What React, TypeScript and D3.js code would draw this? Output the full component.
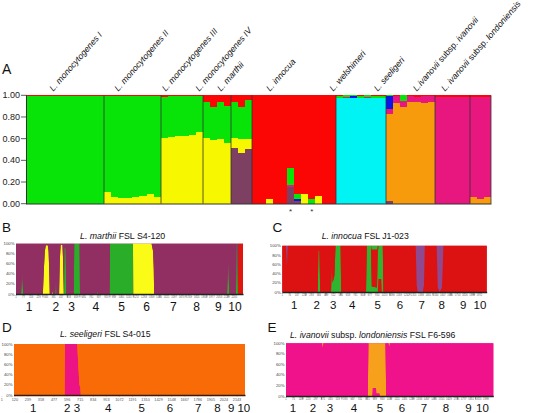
import React from 'react';
import * as d3 from 'd3';

const FONT = "'Liberation Sans', Arial, Helvetica, sans-serif";

// ---------------- Panel A data ----------------
// cluster order (bottom -> top of each bar)
const clusterKeys = ['maroon', 'orange', 'yellow', 'cyan', 'magenta', 'blue', 'green', 'red'];
// rows: [maroon, orange, yellow, cyan, magenta, blue, green, red]
const monoI = [
  [0, 0, 0, 0, 0, 0, 0.992, 0.008], [0, 0, 0, 0, 0, 0, 0.992, 0.008], [0, 0, 0, 0, 0, 0, 0.992, 0.008],
  [0, 0, 0, 0, 0, 0, 0.992, 0.008], [0, 0, 0, 0, 0, 0, 0.992, 0.008], [0, 0, 0, 0, 0, 0, 0.992, 0.008],
  [0, 0, 0, 0, 0, 0, 0.992, 0.008], [0, 0, 0, 0, 0, 0, 0.992, 0.008], [0, 0, 0, 0, 0, 0, 0.992, 0.008],
  [0, 0, 0, 0, 0, 0, 0.992, 0.008], [0, 0, 0, 0, 0, 0, 0.992, 0.008],
];
const monoII = [
  [0, 0, 0.105, 0, 0, 0, 0.887, 0.008], [0, 0, 0.062, 0, 0, 0, 0.93, 0.008], [0, 0, 0.057, 0, 0, 0, 0.935, 0.008],
  [0, 0, 0.057, 0, 0, 0, 0.935, 0.008], [0, 0, 0.062, 0, 0, 0, 0.93, 0.008], [0, 0, 0.071, 0, 0, 0, 0.921, 0.008],
  [0, 0, 0.093, 0, 0, 0, 0.899, 0.008], [0, 0, 0.06, 0, 0, 0, 0.932, 0.008],
];
const monoIII = [
  [0, 0, 0.61, 0, 0, 0, 0.375, 0.015], [0, 0, 0.615, 0, 0, 0, 0.38, 0.005], [0, 0, 0.62, 0, 0, 0, 0.375, 0.005],
  [0, 0, 0.625, 0, 0, 0, 0.37, 0.005], [0, 0, 0.63, 0, 0, 0, 0.365, 0.005], [0, 0, 0.665, 0, 0, 0, 0.33, 0.005],
];
const monoIV = [
  [0, 0, 0.605, 0, 0, 0, 0.335, 0.06], [0, 0, 0.585, 0, 0, 0, 0.305, 0.11],
  [0, 0, 0.595, 0, 0, 0, 0.345, 0.06], [0, 0, 0.56, 0, 0, 0, 0.345, 0.095],
];
const marthii = [
  [0.51, 0, 0.1, 0, 0, 0, 0.33, 0.06], [0.47, 0, 0.13, 0, 0, 0, 0.29, 0.11], [0.505, 0, 0.09, 0, 0, 0, 0.36, 0.045],
];
const innocua = [
  [0, 0, 0, 0, 0, 0, 0, 1], [0, 0, 0, 0, 0, 0, 0, 1], [0, 0, 0.043, 0, 0, 0, 0, 0.957],
  [0, 0, 0, 0, 0, 0, 0, 1], [0, 0, 0, 0, 0, 0, 0, 1], [0.157, 0, 0, 0, 0.013, 0, 0.155, 0.675],
  [0.028, 0, 0, 0, 0, 0.017, 0.04, 0.915], [0, 0, 0.087, 0, 0, 0, 0, 0.913], [0, 0, 0, 0, 0, 0, 0.04, 0.96],
  [0, 0, 0.07, 0, 0, 0, 0, 0.93], [0, 0, 0, 0, 0, 0, 0, 1], [0, 0, 0, 0, 0, 0, 0, 1],
];
const welshimeri = [
  [0, 0, 0, 0.978, 0, 0, 0.012, 0.01], [0, 0, 0, 0.978, 0.01, 0, 0.012, 0], [0, 0, 0, 0.978, 0, 0.012, 0.01, 0],
  [0, 0, 0, 0.978, 0, 0, 0.015, 0.007], [0, 0, 0, 0.978, 0.007, 0, 0.015, 0], [0, 0, 0, 0.978, 0, 0, 0.012, 0.01],
  [0, 0, 0, 0.978, 0, 0, 0.015, 0.007],
];
const seeligeri = [
  [0.025, 0.8, 0, 0, 0.05, 0.115, 0.01, 0], [0, 0.925, 0, 0, 0.065, 0, 0, 0.01], [0, 0.895, 0, 0, 0.055, 0, 0.05, 0],
  [0, 0.935, 0, 0, 0.055, 0, 0, 0.01], [0, 0.94, 0, 0, 0.045, 0, 0, 0.015], [0, 0.93, 0, 0, 0.065, 0, 0, 0.005],
  [0, 0.935, 0, 0, 0.055, 0, 0, 0.01],
];
const ivanovii = [
  [0, 0, 0, 0, 0.985, 0, 0, 0.015], [0, 0, 0, 0, 0.985, 0, 0, 0.015], [0, 0, 0, 0, 0.985, 0, 0, 0.015],
  [0, 0, 0, 0, 0.985, 0, 0, 0.015], [0, 0, 0, 0, 0.985, 0, 0, 0.015],
];
const londoniensis = [
  [0, 0.06, 0, 0, 0.928, 0, 0, 0.012], [0, 0.045, 0, 0, 0.943, 0, 0, 0.012], [0, 0.06, 0, 0, 0.928, 0, 0, 0.012],
];
const groupsA = [monoI, monoII, monoIII, monoIV, marthii, innocua, welshimeri, seeligeri, ivanovii, londoniensis];
const groupLabels: [string, boolean][][] = [
  [['L. monocytogenes I', true]],
  [['L. monocytogenes II', true]],
  [['L. monocytogenes III', true]],
  [['L. monocytogenes IV', true]],
  [['L. marthii', true]],
  [['L. innocua', true]],
  [['L. welshimeri', true]],
  [['L. seeligeri', true]],
  [['L.ivanovii', true], [' subsp. ', false], ['ivanovii', true]],
  [['L. ivanovii', true], [' subsp. ', false], ['londoniensis', true]],
];
const starredInnocua = [5, 8];
const yTicksA = [0, 0.2, 0.4, 0.6, 0.8, 1.0];

// ---------------- Panels B-E data (genome position, proportion) ----------------
type Prof = [number, number][];
const bGreen: Prof = [[1, 0], [52, 0], [63, 0.4], [74, 0], [397, 0], [404, 0.25], [411, 0], [486, 0], [490, 0.93], [502, 0.9], [510, 0],
  [584, 0], [589, 1], [643, 1], [647, 0], [819, 0], [825, 0.05], [831, 0], [946, 0], [950, 1], [1182, 1], [1186, 0],
  [2132, 0], [2144, 0.66], [2154, 0], [2222, 0], [2228, 1], [2236, 1], [2242, 0]];
const bYellow: Prof = [[272, 0], [284, 0.55], [292, 0.85], [302, 0.97], [322, 0.97], [330, 0.85], [336, 0.5], [342, 0],
  [366, 0], [371, 0.06], [376, 0], [436, 0], [444, 0.7], [452, 0.98], [470, 0.98], [476, 0.7], [484, 0],
  [1182, 0], [1186, 1], [1370, 1], [1385, 0.85], [1392, 0.5], [1396, 0]];
const bRed: Prof = [[2240, 0], [2246, 1], [2293, 1]];
const bTicks = [1, 77, 153, 229, 305, 381, 457, 533, 609, 685, 761, 837, 913, 989, 1065, 1141, 1217, 1293, 1369, 1445,
  1521, 1597, 1673, 1749, 1825, 1901, 1977, 2053, 2129, 2205];
const bCenters = [134, 404, 563, 808, 1068, 1320, 1589, 1825, 2043, 2212];
const bSeparators = [273, 520, 646, 949, 1185, 1454, 1717, 1929, 2141];

const cRedLow: Prof = [[956, 0], [962, 0.28], [990, 0.28], [996, 0]];
const cGreenA: Prof = [[1, 0], [355, 0], [362, 0.9], [372, 0.9], [380, 0], [488, 0], [496, 0.55], [504, 0.2], [522, 0.35], [533, 1],
  [584, 1], [590, 0], [838, 0], [846, 1], [888, 1], [896, 0.12], [948, 0.1], [956, 1], [960, 0.72], [990, 0.72],
  [996, 1], [1006, 1], [1012, 0]];
const cRedMid: Prof = [[888, 0], [896, 0.8], [948, 0.82], [956, 0]];
const cGreenB: Prof = [[888, 0], [896, 0.08], [948, 0.08], [956, 0]];
const cPurple: Prof = [[38, 0], [47, 0.45], [56, 0], [1335, 0], [1345, 0.85], [1355, 1], [1405, 1], [1418, 0.85], [1426, 0],
  [1545, 0], [1556, 0.9], [1575, 1], [1598, 0.9], [1612, 0]];
const cTicks = [1, 74, 147, 220, 293, 366, 439, 512, 585, 658, 731, 804, 877, 950, 1023, 1096, 1169, 1242, 1315, 1388,
  1461, 1534, 1607, 1680, 1753, 1826, 1899, 1972];
const cCenters = [120, 344, 510, 700, 954, 1177, 1394, 1594, 1810, 1977];
const cSeparators = [237, 437, 587, 827, 1077, 1277, 1507, 1687, 1917];

const dMagenta: Prof = [[1, 0], [497, 0], [500, 1], [620, 1], [628, 0.7], [636, 0.4], [642, 0.2], [650, 0.15], [655, 0]];
const dTicks = [1, 120, 239, 358, 477, 596, 715, 834, 953, 1072, 1191, 1310, 1429, 1548, 1667, 1786, 1905, 2024, 2143];
const dCenters = [189, 522, 618, 924, 1251, 1529, 1806, 1993, 2130, 2252];

const eMagLow: Prof = [[862, 0], [868, 0.15], [900, 0.15], [905, 0.05], [935, 0.05], [941, 0]];
const eOrange: Prof = [[818, 0], [825, 1], [862, 1], [868, 0.85], [900, 0.85], [905, 0.95], [935, 0.95], [941, 1], [995, 1], [1003, 0]];
const eOrangeTop: Prof = [[360, 0], [367, 0.08], [374, 0], [1026, 0], [1033, 0.06], [1040, 0]];
const eTicks = [1, 75, 149, 223, 297, 371, 445, 519, 593, 667, 741, 815, 889, 963, 1037, 1111, 1185, 1259, 1333, 1407,
  1481, 1555, 1629, 1703, 1777, 1851, 1925, 1999];
const eCenters = [70, 270, 440, 680, 940, 1160, 1380, 1600, 1825, 1965];
const eSeparators = [170, 355, 560, 810, 1050, 1270, 1490, 1715, 1895];

const regionNames = ['1', '2', '3', '4', '5', '6', '7', '8', '9', '10'];
const yTicksPct = [0, 0.2, 0.4, 0.6, 0.8, 1.0];

// ---------------- styles ----------------
const colorsA: Record<string, string> = {
  maroon: '#7d4062', orange: '#f79a0c', yellow: '#f7f700', cyan: '#00f4f4',
  magenta: '#e8177f', blue: '#0b16e4', green: '#08e408', red: '#fb0505',
};
const B_MAROON = '#922f62', B_GREEN = '#2aae2a', B_YELLOW = '#fbfb18', B_RED = '#e0160e';
const C_RED = '#dc1212', C_GREEN = '#2fb52f', C_PURPLE = '#8f4a8f';
const D_ORANGE = '#f96b06', D_MAGENTA = '#ec1384';
const E_MAGENTA = '#ef128a', E_ORANGE = '#f6a01c';

type Layer = { color: string; prof: Prof | null };
type PanelCfg = {
  left: number; right: number; top: number; bottom: number; domain: [number, number];
  layers: Layer[]; ticks: number[]; tickPoint?: [number, number]; tickFont: number; tickY: number;
  separators: number[]; centers: number[]; digitY: number; digitSize: number;
  title: [string, boolean][]; titleX: number; titleY: number; titleSize: number;
  letter: string; letterX: number; letterY: number; axisColor: string;
};

function interp(p: Prof, x: number) {
  if (x <= p[0][0]) return p[0][1];
  for (let i = 1; i < p.length; i++) {
    if (x <= p[i][0]) {
      const [x0, y0] = p[i - 1];
      const [x1, y1] = p[i];
      return x1 === x0 ? y1 : y0 + ((y1 - y0) * (x - x0)) / (x1 - x0);
    }
  }
  return p[p.length - 1][1];
}

function StructurePanel({ p }: { p: PanelCfg }) {
  const x = d3.scaleLinear().domain(p.domain).range([p.left, p.right]);
  const y = d3.scaleLinear().domain([0, 1]).range([p.bottom, p.top]);
  const xs = Array.from(new Set([p.domain[0], p.domain[1], ...p.layers.flatMap(l => (l.prof ? l.prof.map(d => d[0]) : []))]))
    .filter(v => v >= p.domain[0] && v <= p.domain[1]).sort((a, b) => a - b);
  const keys = p.layers.map((_, i) => 'k' + i);
  const rows = xs.map(pos => {
    const r: any = { pos };
    let sum = 0;
    let restIdx = -1;
    p.layers.forEach((l, i) => {
      if (l.prof) { const v = Math.max(0, interp(l.prof, pos)); r['k' + i] = v; sum += v; } else restIdx = i;
    });
    if (sum > 1) p.layers.forEach((l, i) => { if (l.prof) r['k' + i] /= sum; });
    if (restIdx >= 0) r['k' + restIdx] = Math.max(0, 1 - Math.min(sum, 1));
    return r;
  });
  const series = d3.stack<any>().keys(keys)(rows);
  const area = d3.area<any>().x(d => x(d.data.pos)).y0(d => y(d[0])).y1(d => y(d[1]));
  const restLayer = p.layers.find(l => !l.prof);
  const pointScale = p.tickPoint ? d3.scalePoint<number>().domain(p.ticks).range(p.tickPoint) : null;
  const tickX = (v: number) => (pointScale ? (pointScale(v) as number) : x(v));
  return (
    <g>
      <text x={p.letterX} y={p.letterY} fontSize={13.5} fontFamily={FONT} fill="#111">{p.letter}</text>
      <text x={p.titleX} y={p.titleY} fontSize={p.titleSize} fontFamily={FONT} fill="#111">
        {p.title.map(([t, it], i) => <tspan key={i} fontStyle={it ? 'italic' : 'normal'}>{t}</tspan>)}
      </text>
      <rect x={p.left} y={p.top} width={p.right - p.left} height={p.bottom - p.top} fill={restLayer ? restLayer.color : '#fff'} />
      {series.map((s, i) => (
        <path key={i} d={area(s) || ''} fill={p.layers[i].color} />
      ))}
      {yTicksPct.map(v => (
        <text key={v} x={p.left - 1.5} y={y(v)} dy="0.35em" fontSize={4.3} textAnchor="end" fontFamily={FONT} fill="#444">
          {`${Math.round(v * 100)}%`}
        </text>
      ))}
      <line x1={p.left} x2={p.right + 0.5} y1={p.bottom + 0.5} y2={p.bottom + 0.5} stroke={p.axisColor} strokeWidth={1.3} />
      {p.ticks.map((v, i) => (
        <g key={i}>
          <line x1={tickX(v)} x2={tickX(v)} y1={p.bottom + 1} y2={p.bottom + 2} stroke="#777" strokeWidth={0.3} />
          <text x={tickX(v)} y={p.tickY} fontSize={p.tickFont} textAnchor="middle" fontFamily={FONT} fill="#555">{v}</text>
        </g>
      ))}
      {p.separators.map((v, i) => (
        <line key={i} x1={x(v)} x2={x(v)} y1={p.bottom + 0.5} y2={p.bottom + 3.5} stroke="#333" strokeWidth={0.5} />
      ))}
      {p.centers.map((v, i) => (
        <text key={i} x={x(v)} y={p.digitY} fontSize={p.digitSize} textAnchor="middle" fontFamily={FONT} fill="#111">
          {regionNames[i]}
        </text>
      ))}
    </g>
  );
}

const panelB: PanelCfg = {
  left: 16, right: 243, top: 243.7, bottom: 294, domain: [1, 2293],
  layers: [{ color: B_GREEN, prof: bGreen }, { color: B_YELLOW, prof: bYellow }, { color: B_RED, prof: bRed }, { color: B_MAROON, prof: null }],
  ticks: bTicks, tickFont: 2.6, tickY: 298.2, separators: bSeparators, centers: bCenters, digitY: 310.7, digitSize: 12,
  title: [['L. marthii', true], [' FSL S4-120', false]], titleX: 80, titleY: 239.3, titleSize: 8.8,
  letter: 'B', letterX: 2, letterY: 232, axisColor: '#222',
};
const panelC: PanelCfg = {
  left: 282.3, right: 486.7, top: 245.8, bottom: 292, domain: [1, 2045],
  layers: [{ color: C_RED, prof: cRedLow }, { color: C_GREEN, prof: cGreenA }, { color: C_RED, prof: cRedMid },
    { color: C_GREEN, prof: cGreenB }, { color: C_RED, prof: null }, { color: C_PURPLE, prof: cPurple }],
  ticks: cTicks, tickFont: 2.6, tickY: 296.2, separators: cSeparators, centers: cCenters, digitY: 309, digitSize: 11.5,
  title: [['L. innocua', true], [' FSL J1-023', false]], titleX: 321.7, titleY: 239.3, titleSize: 8.7,
  letter: 'C', letterX: 272.5, letterY: 232, axisColor: '#222',
};
const panelD: PanelCfg = {
  left: 14, right: 245, top: 344, bottom: 395, domain: [1, 2264],
  layers: [{ color: D_MAGENTA, prof: dMagenta }, { color: D_ORANGE, prof: null }],
  ticks: dTicks, tickPoint: [1.8, 237], tickFont: 3.8, tickY: 401, separators: [], centers: dCenters, digitY: 411.5, digitSize: 11.5,
  title: [['L. seeligeri', true], [' FSL S4-015', false]], titleX: 60, titleY: 337.3, titleSize: 8.7,
  letter: 'D', letterX: 2, letterY: 332, axisColor: '#3a1a0a',
};
const panelE: PanelCfg = {
  left: 286, right: 493.3, top: 343.3, bottom: 396, domain: [1, 2073],
  layers: [{ color: E_MAGENTA, prof: eMagLow }, { color: E_ORANGE, prof: eOrange }, { color: E_MAGENTA, prof: null }, { color: E_ORANGE, prof: eOrangeTop }],
  ticks: eTicks, tickFont: 2.6, tickY: 400, separators: eSeparators, centers: eCenters, digitY: 411.5, digitSize: 11.5,
  title: [['L. ivanovii', true], [' subsp. ', false], ['londoniensis', true], [' FSL F6-596', false]], titleX: 290, titleY: 338.3, titleSize: 8.7,
  letter: 'E', letterX: 267.5, letterY: 332, axisColor: '#222',
};

// label anchors (layout) for panel A headers
const labelAnchorX = [53.3, 118.3, 165.7, 199.3, 221, 270, 333.3, 377.7, 416.7, 445];

export default function App() {
  const isolates = groupsA.flat();
  const groupStart: number[] = [];
  let acc = 0;
  groupsA.forEach(g => { groupStart.push(acc); acc += g.length; });
  const xA = d3.scaleBand<number>().domain(d3.range(isolates.length)).range([27, 491]).padding(0);
  const yA = d3.scaleLinear().domain([0, 1]).range([203.7, 95.3]);
  const rows = isolates.map(r => {
    const s = d3.sum(r);
    const o: any = {};
    clusterKeys.forEach((k, i) => { o[k] = r[i] / s; });
    return o;
  });
  const series = d3.stack<any>().keys(clusterKeys)(rows);
  const bw = xA.bandwidth();
  const innocuaStart = groupStart[5];
  const bx0 = (i: number) => Math.round(xA(i) as number);
  const bx1 = (i: number) => Math.round((xA(i) as number) + bw);

  return (
    <svg width={560} height={413} style={{ position: 'absolute', left: 0, top: 0, display: 'block', background: '#fff' }}
      fontFamily={FONT}>
      {/* Panel A */}
      <text x={2} y={74} fontSize={14} fill="#111">A</text>
      {groupLabels.map((parts, i) => (
        <text key={i} transform={`translate(${labelAnchorX[i]},91.7) rotate(-49)`} fontSize={8.6} fill="#111">
          {parts.map(([t, it], j) => <tspan key={j} fontStyle={it ? 'italic' : 'normal'}>{t}</tspan>)}
        </text>
      ))}
      <g shapeRendering="crispEdges">
        {series.map(s => (
          <g key={s.key} fill={colorsA[s.key]}>
            {s.map((d, i) => (d[1] - d[0] > 0 ? (
              <rect key={i} x={bx0(i)} y={yA(d[1])} width={bx1(i) - bx0(i)} height={yA(d[0]) - yA(d[1])} />
            ) : null))}
          </g>
        ))}
      </g>
      {groupStart.slice(1).concat([isolates.length]).map((gs, i) => {
        const xx = gs === isolates.length ? 491 : bx0(gs);
        return <line key={i} x1={xx} x2={xx} y1={95.3} y2={203.7} stroke="#333" strokeWidth={0.8} />;
      })}
      <line x1={26.5} x2={26.5} y1={95} y2={204} stroke="#333" strokeWidth={1} />
      <line x1={26} x2={491.5} y1={204} y2={204} stroke="#333" strokeWidth={1} />
      {yTicksA.map(v => (
        <g key={v}>
          <line x1={21} x2={26.5} y1={yA(v)} y2={yA(v)} stroke="#333" strokeWidth={0.8} />
          <text x={20} y={yA(v)} dy="0.35em" fontSize={9} textAnchor="end" fill="#222">{v.toFixed(2)}</text>
        </g>
      ))}
      {starredInnocua.map(k => (
        <text key={k} x={(xA(innocuaStart + k) as number) + bw / 2} y={214} fontSize={8} textAnchor="middle" fill="#333">*</text>
      ))}

      <StructurePanel p={panelB} />
      <StructurePanel p={panelC} />
      <StructurePanel p={panelD} />
      <StructurePanel p={panelE} />
    </svg>
  );
}
